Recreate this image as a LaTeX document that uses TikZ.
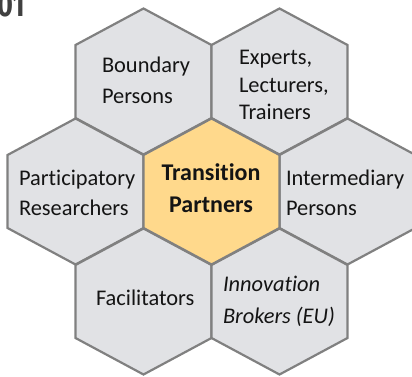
\documentclass[tikz,border=0pt]{standalone}
\usepackage{fontspec}
\setmainfont{Carlito}[Ligatures=NoCommon]
\newfontfamily\numfont{Fira Sans}[FakeStretch=0.8]
\definecolor{hexfill}{RGB}{225,226,229}
\definecolor{hexline}{RGB}{128,128,128}
\definecolor{corefill}{RGB}{255,217,140}
\definecolor{txt}{RGB}{20,20,20}
\definecolor{numcol}{RGB}{64,64,64}
\begin{document}
\begin{tikzpicture}[x=1pt,y=-1pt,
  hexcell/.style={fill=hexfill,draw=hexline,line width=2.2pt,line join=miter},
  corecell/.style={hexcell,fill=corefill},
  lbl/.style={inner sep=0pt,outer sep=0pt,text=txt,align=left,anchor=base west,font=\fontsize{22.4}{30}\selectfont},
]
\useasboundingbox (0,0) rectangle (412,377);
\clip (0,0) rectangle (412,377);
\foreach \cx/\cy/\st in {143.5/81.5/hexcell, 279.5/81.5/hexcell, 75.5/191.5/hexcell, 347.5/191.5/hexcell, 143.5/301.5/hexcell, 279.5/301.5/hexcell, 211.5/191.5/corecell}
  \draw[\st] (\cx,\cy-73) -- (\cx+68,\cy-36.5) -- (\cx+68,\cy+36.5) -- (\cx,\cy+73) -- (\cx-68,\cy+36.5) -- (\cx-68,\cy-36.5) -- cycle;
\node[lbl] (bp) at (102,103) {Boundary\\Persons};
\node[lbl,font=\fontsize{22.4}{27.5}\selectfont] (elt) at (239,120) {Experts,\\Lecturers,\\Trainers};
\node[lbl] (pr) at (19,215) {Participatory\\Researchers};
\node[lbl,align=center,anchor=base,font=\bfseries\fontsize{24}{32}\selectfont] (tp) at (211,212) {Transition\\Partners};
\node[lbl] (ip) at (286,215) {Intermediary\\Persons};
\node[lbl] (fa) at (96,305) {Facilitators};
\node[lbl,font=\itshape\fontsize{22.4}{31.5}\selectfont] (ib) at (223,323) {Innovation\\Brokers (EU)};
\node[anchor=base west,inner sep=0pt,font=\numfont\bfseries\fontsize{34}{34}\selectfont,text=numcol] (num) at (-3,16.5) {01};
\end{tikzpicture}
\end{document}
